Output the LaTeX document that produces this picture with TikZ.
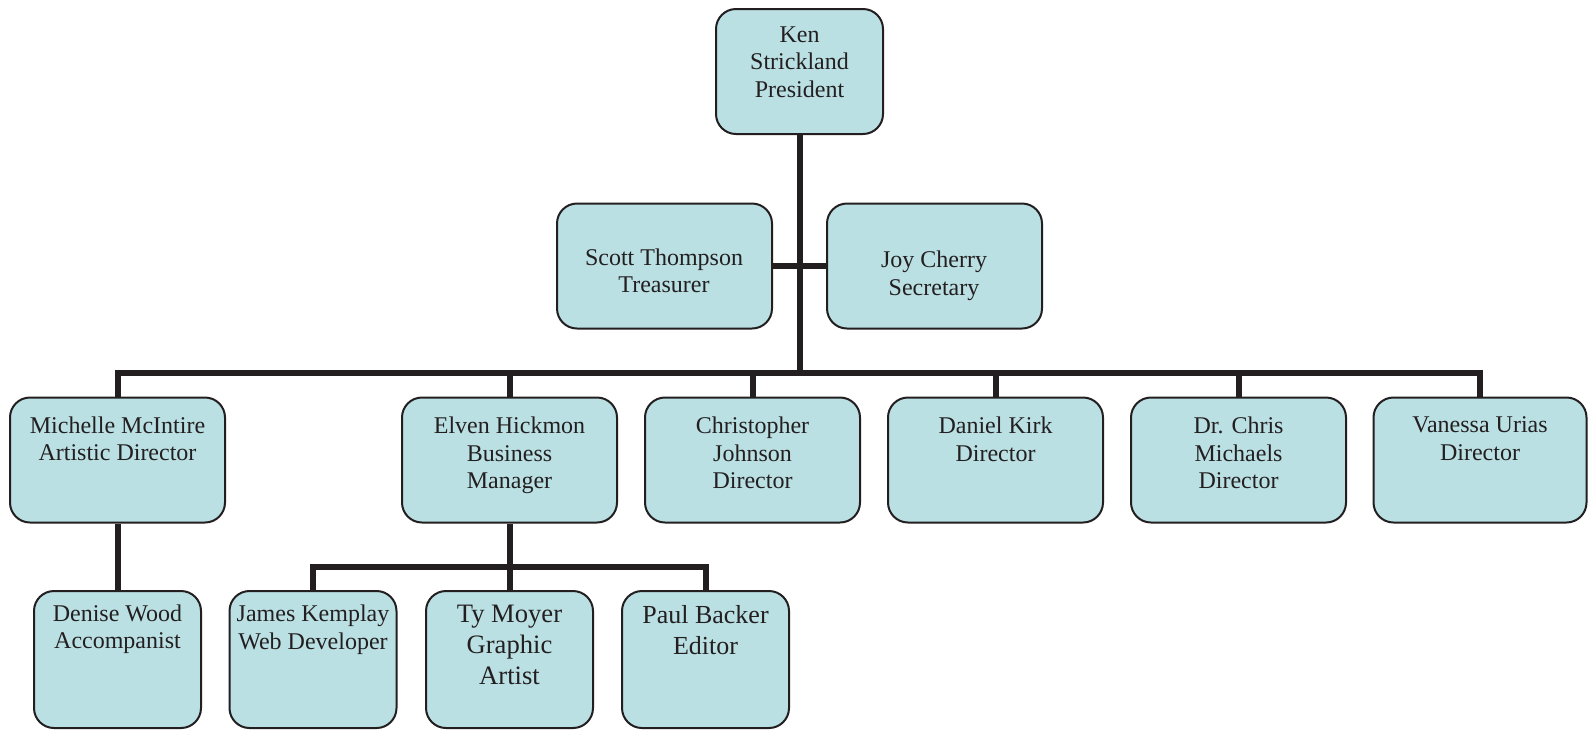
\documentclass[tikz,border=0pt]{standalone}
\usepackage{fontspec}
\setmainfont{Liberation Serif}
\definecolor{ink}{RGB}{35,31,32}
\definecolor{boxfill}{RGB}{186,224,227}
\tikzset{
  box/.style={draw=ink, line width=1pt, fill=boxfill, rounded corners=10pt, inner sep=0pt},
  wbox/.style={box, minimum width=107.5pt, minimum height=62.5pt},
  nbox/.style={box, minimum width=83.5pt, minimum height=68.5pt},
  txt/.style={align=center, inner sep=0pt, anchor=north, text=ink, font=\fontsize{12}{13.75}\selectfont},
  bigtxt/.style={txt, font=\fontsize{13}{15.25}\selectfont},
  tytxt/.style={txt, font=\fontsize{13.3}{15.6}\selectfont},
  conn/.style={draw=ink, line width=3pt}
}
\begin{document}
\begin{tikzpicture}[x=0.5pt, y=-0.5pt]
\useasboundingbox (0,0) rectangle (1588,730);
% top
\node[box, minimum width=83.5pt, minimum height=62.5pt] (pres) at (799.5,71.5) {};
\node[wbox] (treas) at (664.5,266) {};
\node[wbox] (sec) at (934.5,266) {};
% row 2
\node[wbox] (mich) at (117.5,460) {};
\node[wbox] (elven) at (509.5,460) {};
\node[wbox] (chris) at (752.5,460) {};
\node[wbox] (dan) at (995.5,460) {};
\node[wbox] (drc) at (1238.5,460) {};
\node[box, minimum width=106.5pt, minimum height=62.5pt] (van) at (1480,460) {};
% row 3
\node[nbox] (denise) at (117.5,659.5) {};
\node[nbox] (james) at (313,659.5) {};
\node[nbox] (ty) at (509.5,659.5) {};
\node[nbox] (paul) at (705.5,659.5) {};
% texts
\node[txt] (pres-t) at (799.5,26.3) {Ken\\Strickland\\President};
\node[txt] (treas-t) at (664,248.3) {Scott Thompson\\Treasurer};
\node[txt] (sec-t) at (934,250.7) {Joy Cherry\\Secretary};
\node[txt] (mich-t) at (117.5,416) {Michelle McIntire\\Artistic Director};
\node[txt] (elven-t) at (509.5,416.5) {Elven Hickmon\\Business\\Manager};
\node[txt] (chris-t) at (752.5,416.5) {Christopher\\Johnson\\Director};
\node[txt] (dan-t) at (995.5,416.5) {Daniel Kirk\\Director};
\node[txt] (drc-t) at (1238.5,416.5) {Dr. Chris\\Michaels\\Director};
\node[txt] (van-t) at (1480,416.5) {Vanessa Urias\\Director};
\node[txt] (denise-t) at (117.5,604) {Denise Wood\\Accompanist};
\node[txt] (james-t) at (313,604.7) {James Kemplay\\Web Developer};
\node[tytxt] (ty-t) at (509.5,604.5) {Ty Moyer\\Graphic\\Artist};
\node[bigtxt] (paul-t) at (705.5,605.2) {Paul Backer\\Editor};
% connectors
\coordinate (bus) at (799.5,373);
\coordinate (sbus) at (509.5,567);
\draw[conn] (pres.south) -- (bus);
\draw[conn] (treas.east) -- (sec.west);
\foreach \c in {mich,elven,chris,dan,drc,van}{
  \draw[conn] (bus) -| (\c.north);
}
\draw[conn] (elven.south) -- (sbus);
\foreach \c in {james,ty,paul}{
  \draw[conn] (sbus) -| (\c.north);
}
\draw[conn] (mich.south) -- (denise.north);
\end{tikzpicture}
\end{document}
